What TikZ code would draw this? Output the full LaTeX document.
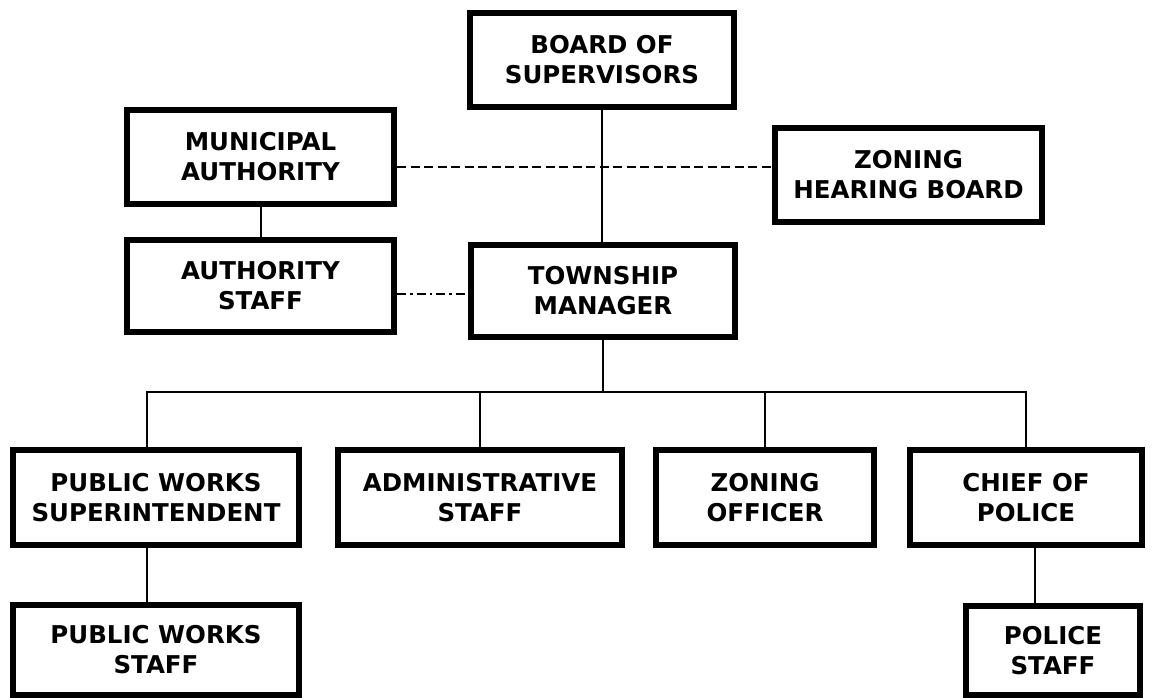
\documentclass[tikz,border=0pt]{standalone}
\usepackage{fontspec}
\setmainfont{DejaVu Sans}
\begin{document}
\begin{tikzpicture}[x=1pt,y=-1pt,
  orgbox/.style={draw=black, line width=6pt, fill=white, rectangle, align=center,
    inner sep=0pt, font=\fontsize{24.5}{30}\selectfont\bfseries},
  link/.style={draw=black, line width=2pt},
  dashlink/.style={link, dash pattern=on 9pt off 4.5pt},
  dashdotlink/.style={link, dash pattern=on 9pt off 4pt on 2.5pt off 4pt}]
  \useasboundingbox (0,0) rectangle (1152,698);

  % top levels
  \node[orgbox, minimum width=264pt, minimum height=94pt] (board) at (602,60) {BOARD OF\\SUPERVISORS};
  \node[orgbox, minimum width=267pt, minimum height=94pt] (ma) at (260.5,157) {MUNICIPAL\\AUTHORITY};
  \node[orgbox, minimum width=267pt, minimum height=94pt] (zhb) at (908.5,175) {ZONING\\HEARING BOARD};
  \node[orgbox, minimum width=267pt, minimum height=92pt] (as) at (260.5,286) {AUTHORITY\\STAFF};
  \node[orgbox, minimum width=264pt, minimum height=92pt] (tm) at (603,291) {TOWNSHIP\\MANAGER};

  % department heads
  \node[orgbox, minimum width=286pt, minimum height=95pt] (pws) at (156,497.5) {PUBLIC WORKS\\SUPERINTENDENT};
  \node[orgbox, minimum width=284pt, minimum height=95pt] (adm) at (480,497.5) {ADMINISTRATIVE\\STAFF};
  \node[orgbox, minimum width=218pt, minimum height=95pt] (zo) at (765,497.5) {ZONING\\OFFICER};
  \node[orgbox, minimum width=232pt, minimum height=95pt] (cop) at (1026,497.5) {CHIEF OF\\POLICE};

  % staff
  \node[orgbox, minimum width=286pt, minimum height=90pt] (pwst) at (156,650) {PUBLIC WORKS\\STAFF};
  \node[orgbox, minimum width=174pt, minimum height=89pt] (pst) at (1053,650.5) {POLICE\\STAFF};

  % reporting lines
  \coordinate (bus) at (603,392);
  \draw[link] (board.south) -- (board.south |- tm.north);
  \draw[link] (ma.south) -- (ma.south |- as.north);
  \draw[link] (tm.south) -- (bus);
  \draw[link] ([xshift=-9pt]pws.north) |- (bus) -| (cop.north);
  \draw[link] (adm.north) -- (adm.north |- bus);
  \draw[link] (zo.north) -- (zo.north |- bus);
  \draw[link] ([xshift=-9pt]pws.south) -- ([xshift=-9pt]pws.south |- pwst.north);
  \draw[link] ([xshift=9pt]cop.south) -- ([xshift=9pt]cop.south |- pst.north);

  % advisory lines
  \draw[dashlink] ([yshift=-10pt]ma.east) -- ([yshift=-10pt]ma.east -| zhb.west);
  \draw[dashdotlink] ([yshift=-8pt]as.east) -- ([yshift=-8pt]as.east -| tm.west);
\end{tikzpicture}
\end{document}
